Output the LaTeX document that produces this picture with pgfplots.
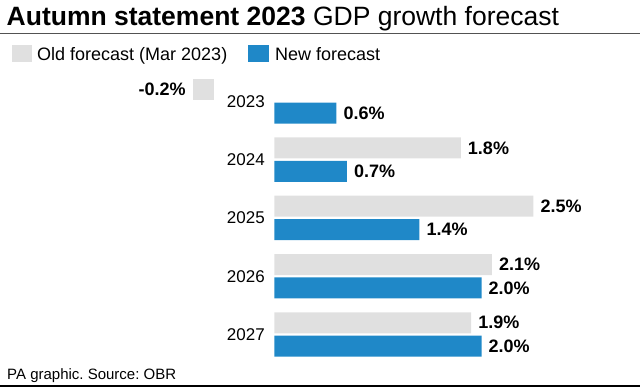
\documentclass[border=0pt]{standalone}
\usepackage{pgfplots}
\pgfplotsset{compat=1.18}
\usepackage{fontspec}
\setmainfont{Liberation Sans}
\frenchspacing
\definecolor{oldc}{HTML}{E0E0E0}
\definecolor{newc}{HTML}{1F88C8}
\begin{document}
\begin{tikzpicture}
\useasboundingbox (0,0) rectangle (640pt,-390pt);
\node[anchor=base west, inner sep=0, font=\fontsize{26.5}{26.5}\selectfont] at (6.5pt,-26pt) {\textbf{Autumn statement 2023} GDP growth forecast};
\draw[color=black!68, line width=1.6pt] (0,-33.5pt) -- (640pt,-33.5pt);
\fill[oldc] (12pt,-45pt) rectangle (32pt,-62pt);
\node[anchor=base west, inner sep=0, font=\fontsize{18}{18}\selectfont] at (37pt,-60.5pt) {Old forecast (Mar 2023)};
\fill[newc] (248pt,-45pt) rectangle (269pt,-62pt);
\node[anchor=base west, inner sep=0, font=\fontsize{18}{18}\selectfont] at (275pt,-60.5pt) {New forecast};
\node[anchor=base west, inner sep=0, font=\fontsize{15}{15}\selectfont] at (7pt,-379pt) {PA graphic. Source: OBR};
\draw[black, line width=2.3pt] (0,-386pt) -- (640pt,-386pt);
\begin{axis}[
  at={(274.3pt,-72.15pt)}, anchor=north west,
  scale only axis, width=310.8pt, height=291.5pt,
  xmin=0, xmax=3, ymin=-0.5, ymax=4.5, y dir=reverse,
  xbar, bar width=21pt,
  axis line style={draw=none}, xtick=\empty,
  ytick={0,1,2,3,4}, yticklabels={2023,2024,2025,2026,2027},
  major tick length=0pt,
  yticklabel style={font=\fontsize{17}{17}\selectfont, xshift=-6pt},
  clip=false,
  /pgf/number format/assume math mode=true,
  nodes near coords={\pgfmathprintnumber[fixed,fixed zerofill,precision=1]{\pgfplotspointmeta}\%},
  every node near coord/.append style={font=\bfseries\fontsize{18}{18}\selectfont, inner xsep=7pt, inner ysep=0pt, text=black},
]
\addplot[draw=none, fill=oldc, bar shift=11.7pt, xshift=-60.8pt] coordinates {(-0.2,0)};
\addplot[draw=none, fill=oldc, bar shift=11.7pt] coordinates {(1.8,1) (2.5,2) (2.1,3) (1.9,4)};
\addplot[draw=none, fill=newc, bar shift=-11.7pt] coordinates {(0.6,0) (0.7,1) (1.4,2) (2.0,3) (2.0,4)};
\end{axis}
\end{tikzpicture}
\end{document}
